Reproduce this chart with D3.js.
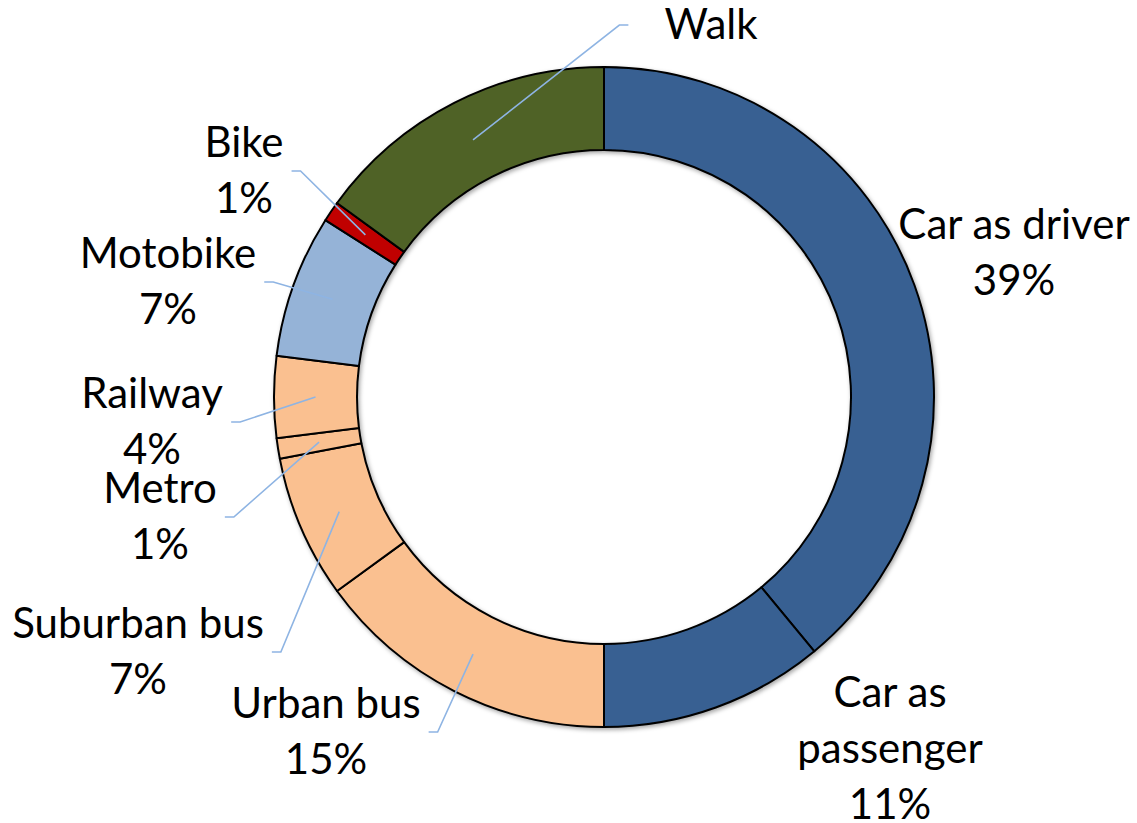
<!DOCTYPE html>
<html>
<head>
<meta charset="utf-8">
<script src="https://cdn.jsdelivr.net/npm/d3@7"></script>
<style>
  body { margin: 0; background: #fff; }
  svg { display: block; }
  .label { font-family: Lato, "Open Sans", sans-serif; font-size: 42px; fill: #000; }
  .leader { fill: none; stroke: #8eb4e3; stroke-width: 1.6; }
</style>
</head>
<body>
<svg id="chart" width="1137" height="823"></svg>
<script>
// data, clockwise from 12 o'clock
var modes = ["Car as driver", "Car as passenger", "Urban bus", "Suburban bus", "Metro", "Railway", "Motobike", "Bike", "Walk"];
var shares = [39, 11, 15, 7, 1, 4, 7, 1, 15];
var groups = ["car", "car", "public", "public", "public", "public", "moto", "bike", "walk"];
var labelLines = [
    ["Car as driver", "39%"],
    ["Car as", "passenger", "11%"],
    ["Urban bus", "15%"],
    ["Suburban bus", "7%"],
    ["Metro", "1%"],
    ["Railway", "4%"],
    ["Motobike", "7%"],
    ["Bike", "1%"],
    ["Walk"]
];

// layout
var groupColor = {car: "#376092", public: "#fac090", moto: "#95b3d7", bike: "#c00000", walk: "#4f6228"};
var labelAt = [[1014, 239], [890, 707], [326, 718], [138, 638], [160, 503], [152, 408], [168, 268], [244, 157], [711, 39]];
var leaderSide = [null, null, "left", "left", "left", "left", "left", "left", "right"];
var lineStep = 56;

var cx = 604, cy = 397, outerR = 330, innerR = 247;

var svg = d3.select("#chart");

var defs = svg.append("defs");
defs.append("filter")
    .attr("id", "shadow")
    .attr("x", "-10%").attr("y", "-10%").attr("width", "120%").attr("height", "120%")
    .append("feDropShadow")
    .attr("dx", 1.5).attr("dy", 2)
    .attr("stdDeviation", 2)
    .attr("flood-color", "#000")
    .attr("flood-opacity", 0.35);

var pie = d3.pie().sort(null).value(function(d) { return d; });
var arcs = pie(shares);

var arc = d3.arc().innerRadius(innerR).outerRadius(outerR);

var ring = svg.append("g")
    .attr("transform", "translate(" + cx + "," + cy + ")");

ring.append("g")
    .attr("filter", "url(#shadow)")
    .selectAll("path")
    .data(arcs)
    .enter().append("path")
    .attr("d", arc)
    .attr("fill", function(d, i) { return groupColor[groups[i]]; })
    .attr("stroke", "#000")
    .attr("stroke-width", 2)
    .attr("stroke-linejoin", "round");

// labels
var labels = svg.append("g");
var leaders = svg.append("g");

arcs.forEach(function(a, i) {
    var pos = labelAt[i];
    var t = labels.append("text")
        .attr("class", "label")
        .attr("text-anchor", "middle");
    labelLines[i].forEach(function(line, k) {
        t.append("tspan")
            .attr("x", pos[0])
            .attr("y", pos[1] + k * lineStep)
            .text(line);
    });

    if (!leaderSide[i]) return;

    var box = t.node().getBBox();
    var c = arc.centroid(a);
    var start = [cx + c[0], cy + c[1]];
    var ey = pos[1] + (labelLines[i].length - 1) * lineStep / 2 - 14;
    var hx, ex;
    if (leaderSide[i] === "left") {
        hx = box.x + box.width + 8;
        ex = hx + 9;
    } else {
        hx = box.x - 36;
        ex = hx - 9;
    }
    leaders.append("path")
        .attr("class", "leader")
        .attr("d", d3.line()([start, [ex, ey], [hx, ey]]));
});
</script>
</body>
</html>
